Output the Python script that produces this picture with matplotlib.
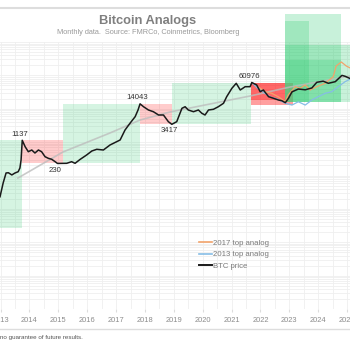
import matplotlib.pyplot as plt
import numpy as np
from matplotlib.patches import Rectangle
from matplotlib.lines import Line2D
from matplotlib.ticker import LogLocator, MultipleLocator, NullFormatter

plt.rcParams['font.family'] = ['Liberation Sans', 'DejaVu Sans']

# BTC monthly price
btc_year = [2012.98, 2013.09, 2013.19, 2013.27, 2013.39, 2013.50, 2013.61, 2013.67, 2013.71,
            2013.75, 2013.85, 2013.96, 2014.08, 2014.19, 2014.31, 2014.42, 2014.54, 2014.65,
            2014.77, 2014.89, 2014.97, 2015.12, 2015.29, 2015.46, 2015.58, 2015.75, 2015.98,
            2016.16, 2016.33, 2016.56, 2016.79, 2017.02, 2017.14, 2017.31, 2017.48, 2017.66,
            2017.76, 2017.83, 2017.95, 2018.12, 2018.29, 2018.47, 2018.64, 2018.81, 2018.93,
            2019.10, 2019.28, 2019.39, 2019.50, 2019.68, 2019.85, 2019.97, 2020.08, 2020.20,
            2020.37, 2020.54, 2020.72, 2020.83, 2021.01, 2021.16, 2021.30, 2021.47, 2021.64,
            2021.70, 2021.87, 2021.99, 2022.10, 2022.28, 2022.45, 2022.62, 2022.74, 2022.86,
            2022.97, 2023.09, 2023.31, 2023.55, 2023.78, 2023.95, 2024.17, 2024.35, 2024.59,
            2024.82, 2024.93, 2025.11]
btc_price = [23, 60, 119, 121, 104, 119, 130, 168, 292,
             1137, 730, 517, 581, 472, 581, 517, 366, 328,
             306, 259, 230, 231, 232, 259, 232, 302, 412,
             542, 610, 581, 821, 1030, 1160, 2310, 3660, 5780,
             9180, 14043, 11500, 9180, 8160, 6500, 6500, 4100, 3417,
             4100, 10300, 11500, 9180, 8160, 9180, 7310, 6500, 9180,
             9630, 11500, 14600, 23000, 41000, 57900, 36500, 45800, 45800,
             60976, 51500, 32400, 36500, 23000, 20600, 18300, 17400, 15200,
             20600, 32000, 39000, 37000, 42000, 62000, 67000, 57900, 64700,
             100000, 94000, 80000]

# analog paths starting at the 2021 top
a17_year = [2021.70, 2021.92, 2022.16, 2022.39, 2022.61, 2022.86, 2022.96, 2023.20, 2023.37,
            2023.55, 2023.72, 2023.95, 2024.24, 2024.52, 2024.62, 2024.80, 2024.97, 2025.11]
a17_price = [60976, 45800, 32400, 29000, 23000, 16500, 25800, 45800, 41000,
             51500, 36500, 45800, 57900, 91300, 191000, 252000, 191000, 166000]

a13_year = [2021.70, 2021.89, 2022.09, 2022.34, 2022.58, 2022.86, 2023.09, 2023.31, 2023.55,
            2023.78, 2024.00, 2024.24, 2024.47, 2024.69, 2024.93, 2025.11]
a13_price = [60976, 41900, 31800, 22500, 19600, 14600, 12900, 16200, 12900,
             18300, 23000, 29000, 32400, 45800, 64700, 77800]

# power-law style trend
trend_year = [2013.60, 2015.16, 2016.79, 2017.83, 2018.87, 2021.64, 2023.03, 2025.11]
trend_price = [84, 506, 1880, 4600, 8000, 24100, 44900, 95800]

# cycle boxes: start, end, low, high
up_boxes = [(2011.80, 2013.73, 2.7, 1137), (2015.16, 2017.83, 230, 14043),
            (2018.93, 2021.67, 3417, 60976)]
down_boxes = [(2013.75, 2015.16, 230, 1137), (2017.83, 2018.93, 3417, 14043)]
analog_down = [(2021.68, 2022.86, 18300, 60976), (2021.68, 2023.12, 13000, 60976)]
analog_up = [(2022.86, 2024.80, 15500, 6.9e6), (2022.86, 2023.69, 15500, 4.3e6),
             (2022.86, 2025.40, 15500, 8.1e5), (2022.86, 2024.80, 15500, 2.9e5)]

peaks = [(2013.75, 1137), (2017.83, 14043), (2021.70, 60976)]
troughs = [(2014.97, 230), (2018.93, 3417)]

years = list(range(2013, 2026))

fig = plt.figure(figsize=(3.5, 3.5), dpi=100)
ax = fig.add_axes([0, 1 - 309 / 350, 1, 267 / 350])
ax.set_yscale('log')
ax.set_xlim(2012.98, 2025.10)
ax.set_ylim(1e-2, 1e6)

green = '#2ecc71'
red = '#ff1a1a'
for x0, x1, lo, hi in up_boxes:
    ax.add_patch(Rectangle((x0, lo), x1 - x0, hi - lo, color=green, alpha=0.2, lw=0, zorder=1))
for x0, x1, lo, hi in down_boxes:
    ax.add_patch(Rectangle((x0, lo), x1 - x0, hi - lo, color=red, alpha=0.22, lw=0, zorder=1))
for x0, x1, lo, hi in analog_down:
    ax.add_patch(Rectangle((x0, lo), x1 - x0, hi - lo, color=red, alpha=0.42, lw=0, zorder=1))
for x0, x1, lo, hi in analog_up:
    ax.add_patch(Rectangle((x0, lo), x1 - x0, hi - lo, color=green, alpha=0.26, lw=0,
                           zorder=1, clip_on=False))

ax.plot(trend_year, trend_price, color='#bdbdbd', lw=1.2, alpha=0.8, zorder=2)
ax.plot(a17_year, a17_price, color='#f2a36b', lw=0.9, zorder=3)
ax.plot(a13_year, a13_price, color='#86bde6', lw=0.9, zorder=3)
ax.plot(btc_year, btc_price, color='#1a1a1a', lw=1.1, zorder=4)

for x, y in peaks:
    ax.annotate(f'{y}', (x, y), xytext=(-2, 4.5), textcoords='offset points',
                ha='center', va='center', fontsize=5.6, color='#333333')
for x, y in troughs:
    ax.annotate(f'{y}', (x, y), xytext=(-2, -4.8), textcoords='offset points',
                ha='center', va='center', fontsize=5.6, color='#333333')

ax.set_xticks(years)
ax.set_xticklabels([str(y) for y in years])
ax.xaxis.set_minor_locator(MultipleLocator(0.5))
ax.yaxis.set_major_locator(LogLocator(base=10, numticks=20))
ax.yaxis.set_minor_locator(LogLocator(base=10, subs=np.arange(2, 10), numticks=200))
ax.yaxis.set_minor_formatter(NullFormatter())
ax.grid(which='both', color='#efefef', lw=0.6, zorder=0)
ax.set_axisbelow(True)
ax.tick_params(axis='x', which='major', length=2.5, color='#dddddd', labelsize=5.4,
               labelcolor='#8c8c8c', pad=3.5)
ax.tick_params(axis='x', which='minor', length=0)
ax.tick_params(axis='y', which='both', left=False, labelleft=False)
for s in ax.spines.values():
    s.set_visible(False)

handles = [Line2D([], [], color='#f2a36b', lw=1.2),
           Line2D([], [], color='#86bde6', lw=1.2),
           Line2D([], [], color='#1a1a1a', lw=1.4)]
fig.legend(handles, ['2017 top analog', '2013 top analog', 'BTC price'],
           loc='upper left', bbox_to_anchor=(199 / 350, 1 - 239.5 / 350), frameon=False,
           fontsize=5.6, labelcolor='#7a7a7a', handlelength=1.7, handletextpad=0.15,
           labelspacing=0.5, borderpad=0, borderaxespad=0)

fig.text(148 / 350, 1 - 20.7 / 350, 'Bitcoin Analogs', ha='center', va='center',
         fontsize=9.3, fontweight='bold', color='#7f7f7f')
fig.text(148 / 350, 1 - 32 / 350, 'Monthly data.  Source: FMRCo, Coinmetrics, Bloomberg',
         ha='center', va='center', fontsize=5.3, color='#9a9a9a')
fig.text(0, 1 - 337 / 350, 'no guarantee of future results.', ha='left', va='center',
         fontsize=4.5, color='#555555')
fig.add_artist(Line2D([0, 1], [1 - 7.5 / 350] * 2, color='#dddddd', lw=1.5))
fig.add_artist(Line2D([0, 1], [1 - 328.7 / 350] * 2, color='#dddddd', lw=1.0))

fig.savefig('out.png', dpi=100)
